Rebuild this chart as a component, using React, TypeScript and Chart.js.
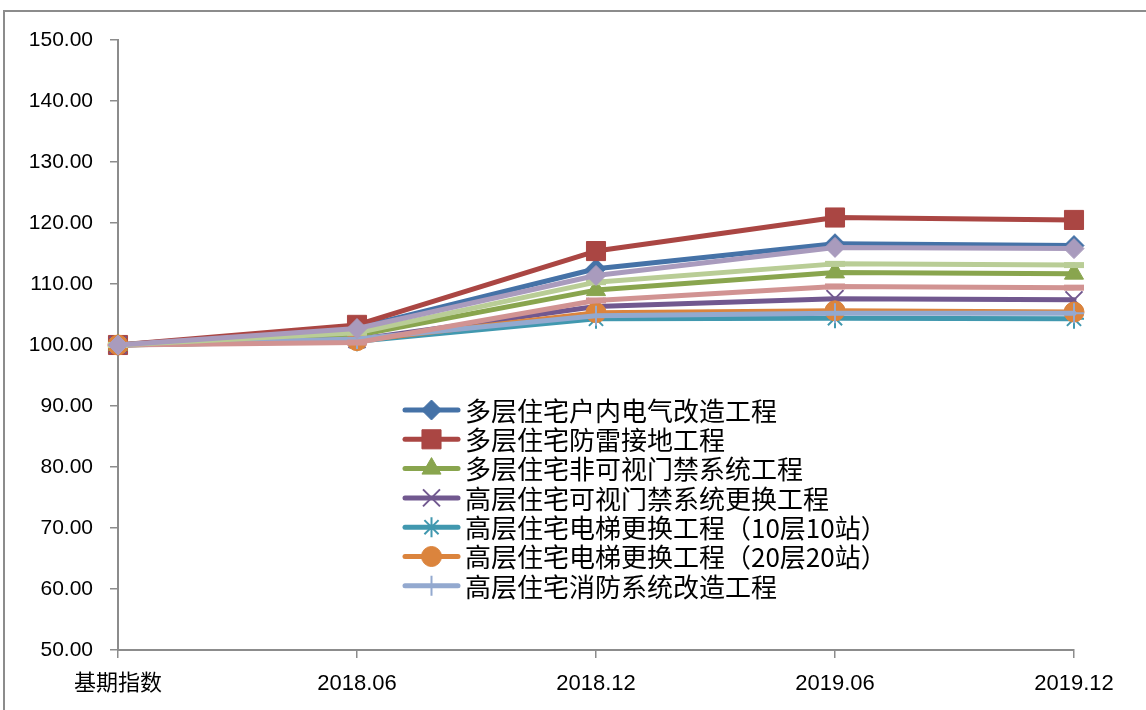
import React, { useEffect, useRef } from 'react';
import { Chart, registerables } from 'chart.js';
import { drawPoint } from 'chart.js/helpers';

Chart.register(...registerables);

const categories = ['基期指数', '2018.06', '2018.12', '2019.06', '2019.12'];

const seriesNames = [
  '多层住宅户内电气改造工程',
  '多层住宅防雷接地工程',
  '多层住宅非可视门禁系统工程',
  '高层住宅可视门禁系统更换工程',
  '高层住宅电梯更换工程（10层10站）',
  '高层住宅电梯更换工程（20层20站）',
  '高层住宅消防系统改造工程',
  '系列8',
  '系列9',
  '系列10',
];

const s1 = [100, 102.8, 112.5, 116.6, 116.3];
const s2 = [100, 103.3, 115.4, 120.9, 120.5];
const s3 = [100, 101.6, 109.0, 111.9, 111.7];
const s4 = [100, 100.9, 106.3, 107.6, 107.4];
const s5 = [100, 100.6, 104.3, 104.4, 104.3];
const s6 = [100, 100.7, 105.3, 105.6, 105.4];
const s7 = [100, 101.0, 104.8, 105.2, 105.2];
const s8 = [100, 100.4, 107.3, 109.6, 109.4];
const s9 = [100, 102.0, 110.3, 113.3, 113.1];
const s10 = [100, 102.7, 111.4, 116.0, 115.8];

const seriesValues = [s1, s2, s3, s4, s5, s6, s7, s8, s9, s10];

const colors = ['#4572A7', '#AA4643', '#89A54E', '#71588F', '#4198AF', '#DB843D', '#93A9CF', '#D19392', '#B9CD96', '#A99BBD'];
const markers = ['rectRot', 'rect', 'triangle', 'crossRot', 'star', 'circle', 'cross', 'line', 'line', 'rectRot'];
const markerRadius = [10, 13.5, 11, 12, 10, 10, 10, 10, 10, 10];
const markerBorder = [1, 1, 1, 2, 2, 1, 2, 6, 6, 1];

const legendCount = 7;
const yMin = 50;
const yMax = 150;
const yStep = 10;

const frameAndLegend = {
  id: 'frameAndLegend',
  beforeDraw(chart: any) {
    const ctx = chart.ctx;
    ctx.save();
    ctx.fillStyle = '#ffffff';
    ctx.fillRect(0, 0, chart.width, chart.height);
    ctx.strokeStyle = '#8c8c8c';
    ctx.lineWidth = 2;
    ctx.strokeRect(4, 11, 2000, 2000);
    ctx.restore();
  },
  afterDraw(chart: any) {
    const ctx = chart.ctx;
    ctx.save();
    const x0 = 405;
    const x1 = 458;
    const top = 410;
    const gap = 29.3;
    for (let i = 0; i < legendCount; i++) {
      const ds = chart.data.datasets[i];
      const y = top + i * gap;
      ctx.strokeStyle = ds.borderColor;
      ctx.lineWidth = 5;
      ctx.lineCap = 'round';
      ctx.beginPath();
      ctx.moveTo(x0, y);
      ctx.lineTo(x1, y);
      ctx.stroke();
      ctx.lineCap = 'butt';
      ctx.fillStyle = ds.pointBackgroundColor;
      ctx.strokeStyle = ds.pointBorderColor;
      ctx.lineWidth = ds.pointBorderWidth;
      drawPoint(ctx, { pointStyle: ds.pointStyle, radius: ds.pointRadius, rotation: 0, borderWidth: ds.pointBorderWidth }, (x0 + x1) / 2, y);
      ctx.fillStyle = '#000000';
      ctx.font = '26px "Noto Sans CJK SC"';
      ctx.textBaseline = 'middle';
      ctx.textAlign = 'left';
      ctx.fillText(ds.label, 465, y + 1);
    }
    ctx.restore();
  },
};

export default function App() {
  const ref = useRef<HTMLCanvasElement>(null);
  useEffect(() => {
    if (!ref.current) return;
    const n = seriesValues.length;
    const datasets = seriesValues.map((vals, i) => ({
      label: seriesNames[i],
      data: vals,
      borderColor: colors[i],
      backgroundColor: colors[i],
      borderWidth: 5,
      borderCapStyle: 'round',
      borderJoinStyle: 'round',
      pointStyle: markers[i],
      pointRadius: markerRadius[i],
      pointHoverRadius: markerRadius[i],
      pointBackgroundColor: colors[i],
      pointBorderColor: colors[i],
      pointBorderWidth: markerBorder[i],
      tension: 0,
      fill: false,
      clip: false,
      order: n - i,
    }));
    const tickFont = { family: "'Liberation Sans', 'Noto Sans CJK SC'", size: 21 };
    const xTickFont = { family: "'Liberation Sans', 'Noto Sans CJK SC'", size: 22 };
    const chart = new Chart(ref.current, {
      type: 'line',
      data: { labels: categories, datasets: datasets as any },
      options: {
        responsive: false,
        animation: false,
        layout: { padding: { left: 0, right: 72, top: 40, bottom: 0 } },
        plugins: { legend: { display: false }, tooltip: { enabled: false } },
        scales: {
          x: {
            type: 'category',
            offset: false,
            grid: { offset: false, drawOnChartArea: false, tickLength: 8, color: '#8c8c8c', lineWidth: 1.5 },
            border: { color: '#8c8c8c', width: 2 },
            ticks: { color: '#000000', font: xTickFont, padding: 13, maxRotation: 0, autoSkip: false },
            afterFit: (s: any) => { s.height = 60; },
          },
          y: {
            min: yMin,
            max: yMax,
            grid: { drawOnChartArea: false, tickLength: 8, color: '#8c8c8c', lineWidth: 1.5 },
            border: { color: '#8c8c8c', width: 2 },
            ticks: {
              stepSize: yStep,
              color: '#000000',
              font: tickFont,
              padding: 17,
              callback: (v: any) => Number(v).toFixed(2),
            },
            afterFit: (s: any) => { s.width = 118; },
          },
        },
      },
      plugins: [frameAndLegend],
    });
    return () => chart.destroy();
  }, []);
  return (
    <div style={{ position: 'fixed', left: 0, top: 0, width: 1146, height: 710, background: '#fff' }}>
      <canvas ref={ref} width={1146} height={710} style={{ display: 'block', width: 1146, height: 710 }} />
    </div>
  );
}
